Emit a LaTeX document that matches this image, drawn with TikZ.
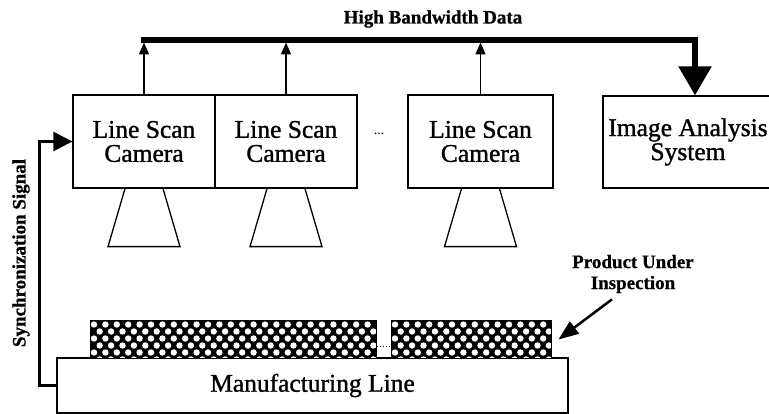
\documentclass[tikz,border=0pt]{standalone}
\usepackage{fontspec}
\setmainfont{Liberation Serif}
\newfontfamily\heavyserif[FakeBold=1.2]{Liberation Serif}
\newfontfamily\heavybold[FakeBold=0.8]{Liberation Serif Bold}
\usetikzlibrary{arrows.meta,calc}
\begin{document}
\begin{tikzpicture}[x=1pt,y=-1pt,
  box/.style={draw, line width=1.3pt, inner sep=0pt, align=center,
    minimum width=142pt, minimum height=93pt,
    font=\heavyserif\fontsize{25.5}{24}\selectfont},
  small/.style={font=\heavybold\fontsize{19}{21}\selectfont, align=center, inner sep=0pt},
  bus/.style={line width=5.5pt, -{Triangle[width=32pt,length=29pt]}},
  uparrow/.style={line width=1.3pt, -{Triangle[width=10pt,length=12pt]}, shorten >=2.5pt},
  lens/.style={line width=1.3pt},
  sync/.style={line width=2.5pt, -{Triangle[width=19pt,length=19pt]}},
  pointer/.style={line width=2.5pt, -{Triangle[width=15pt,length=20pt]}},
  product/.style={draw, fill=black, line width=1pt, inner sep=0pt, minimum height=37pt,
    path picture={
      \foreach \j in {0,...,5}{
        \foreach \i in {0,...,30}{
          \fill[white] ($(path picture bounding box.north west)+({\i*11.4+mod(\j,2)*5.7+4},{\j*7+3.5})$) circle (3.2pt);
        }
      }
    }}
]
\useasboundingbox (0,0) rectangle (769,414);
\clip (0,0) rectangle (769,414);

% cameras and analysis system
\node[box] (cam1) at (144,141.5) {Line Scan\\Camera};
\node[box] (cam2) at (286,141.5) {Line Scan\\Camera};
\node[box, minimum width=145pt] (cam3) at (480.5,141.5) {Line Scan\\Camera};
\node[box, minimum width=170pt, minimum height=92pt] (ia) at (688,142) {Image Analysis\\System};
\node[font=\fontsize{14}{14}\selectfont, inner sep=0pt] (dots) at (379,134) {...};

% lenses
\foreach \c in {cam1,cam2,cam3}{
  \draw[lens] ($(\c.south)+(-19,0)$) -- ++(-17,58) -- ++(72,0) -- ++(-17,-58);
}

% high bandwidth bus
\coordinate (b1) at (141,40);
\coordinate (b4) at (695,40);
\draw[bus] (b1) -- (b4) -- (b4 |- ia.north);
\foreach \c in {cam1,cam2,cam3}{
  \draw[uparrow] (\c.north) -- (\c.north |- b1);
}
\node[small] (hbd) at (433,19) {High Bandwidth Data};

% manufacturing line and products
\node[box, minimum width=511pt, minimum height=55pt] (mfg) at (312.5,385.5) {Manufacturing Line};
\node[product, minimum width=286pt] (p1) at (233,339.5) {};
\node[product, minimum width=160pt] (p2) at (471,339.5) {};
\draw[dotted, line width=1pt] ($(p1.east)+(0,6.5)$) -- ($(p2.west)+(0,6.5)$);

\node[small] (plabel) at (633,274) {Product Under\\Inspection};
\draw[pointer] ($(plabel.south)+(-21,6)$) -- ($(p2.east)+(7,0)$);

% synchronization
\draw[sync] (mfg.west) -- ++(-17,0) |- (cam1.west);
\node[small, rotate=90] (synclabel) at (21,253) {Synchronization Signal};
\end{tikzpicture}
\end{document}
